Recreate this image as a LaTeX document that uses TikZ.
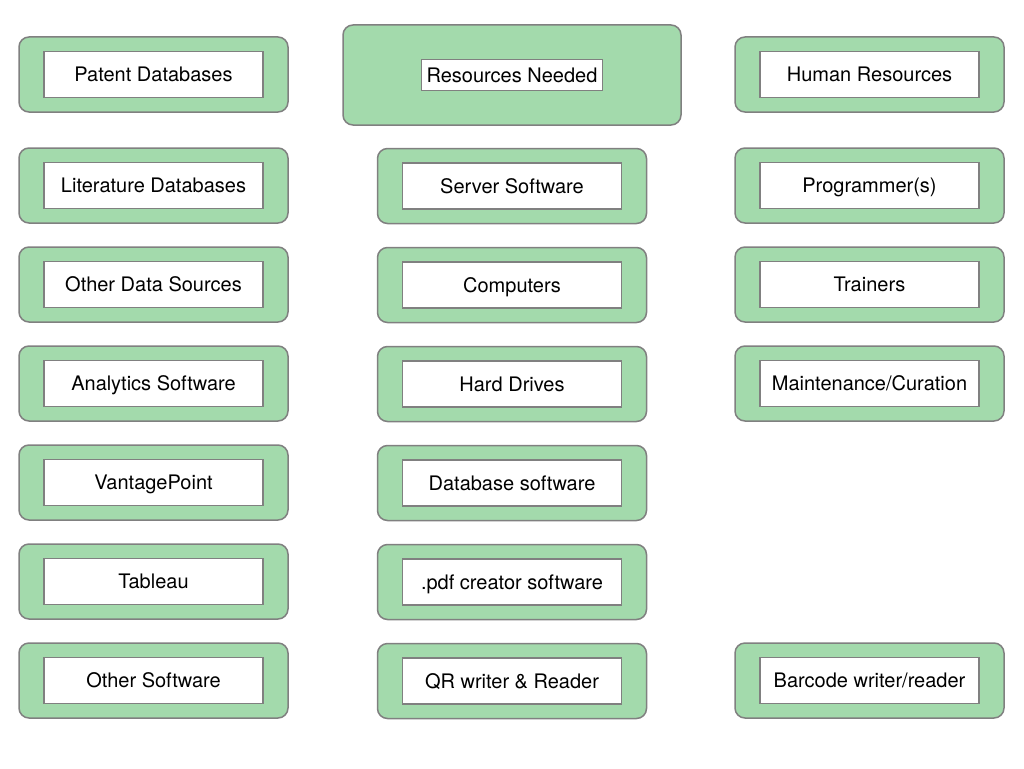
\documentclass[tikz,border=0pt]{standalone}
\usepackage{fontspec}
\setmainfont{TeX Gyre Heros}
\usepackage{tikz}
\usetikzlibrary{positioning}
\definecolor{BoxGreen}{RGB}{163,218,172}
\definecolor{BoxGray}{RGB}{128,128,128}
\tikzset{
  outerbox/.style={draw=BoxGray,fill=BoxGreen,line width=1.5pt,rounded corners=10pt,minimum width=269pt,minimum height=75pt},
  innerbox/.style={draw=BoxGray,fill=white,line width=1.5pt,minimum width=219pt,minimum height=46pt,text height=14pt,text depth=0pt,font=\fontsize{20}{24}\selectfont}
}
\begin{document}
\begin{tikzpicture}[x=1pt,y=-1pt,node distance=22.5pt]
\useasboundingbox (0,0) rectangle (1024,768);
% left column
\node[outerbox] (patent) at (153.5,74.5) {};
\node[outerbox,below=34.5pt of patent] (lit) {};
\node[outerbox,below=of lit] (other) {};
\node[outerbox,below=of other] (analytics) {};
\node[outerbox,below=of analytics] (vantage) {};
\node[outerbox,below=of vantage] (tableau) {};
\node[outerbox,below=of tableau] (osoft) {};
\node[innerbox] (patentT) at (patent.center) {Patent Databases};
\node[innerbox] (litT) at (lit.center) {Literature Databases};
\node[innerbox] (otherT) at (other.center) {Other Data Sources};
\node[innerbox] (analyticsT) at (analytics.center) {Analytics Software};
\node[innerbox] (vantageT) at (vantage.center) {VantagePoint};
\node[innerbox] (tableauT) at (tableau.center) {Tableau};
\node[innerbox] (osoftT) at (osoft.center) {Other Software};
% middle column
\node[outerbox,minimum width=338pt,minimum height=100pt] (needed) at (512,75) {};
\node[draw=BoxGray,fill=white,line width=1.5pt,inner sep=0pt,minimum width=181pt,minimum height=31pt,text height=14pt,text depth=0pt,font=\fontsize{20}{24}\selectfont] (neededT) at (needed.center) {Resources Needed};
\node[outerbox,below=22pt of needed] (server) {};
\node[outerbox,below=of server] (comp) {};
\node[outerbox,below=of comp] (drives) {};
\node[outerbox,below=of drives] (dbsoft) {};
\node[outerbox,below=of dbsoft] (pdf) {};
\node[outerbox,below=of pdf] (qr) {};
\node[innerbox] (serverT) at (server.center) {Server Software};
\node[innerbox] (compT) at (comp.center) {Computers};
\node[innerbox] (drivesT) at (drives.center) {Hard Drives};
\node[innerbox] (dbsoftT) at (dbsoft.center) {Database software};
\node[innerbox] (pdfT) at (pdf.center) {.pdf creator software};
\node[innerbox] (qrT) at (qr.center) {QR writer \& Reader};
% right column
\node[outerbox] (human) at (869.5,74.5) {};
\node[outerbox,below=34.5pt of human] (prog) {};
\node[outerbox,below=of prog] (train) {};
\node[outerbox,below=of train] (maint) {};
\node[outerbox] (barcode) at (osoft -| human) {};
\node[innerbox] (humanT) at (human.center) {Human Resources};
\node[innerbox] (progT) at (prog.center) {Programmer(s)};
\node[innerbox] (trainT) at (train.center) {Trainers};
\node[innerbox] (maintT) at (maint.center) {Maintenance/Curation};
\node[innerbox] (barcodeT) at (barcode.center) {Barcode writer/reader};
\end{tikzpicture}
\end{document}
